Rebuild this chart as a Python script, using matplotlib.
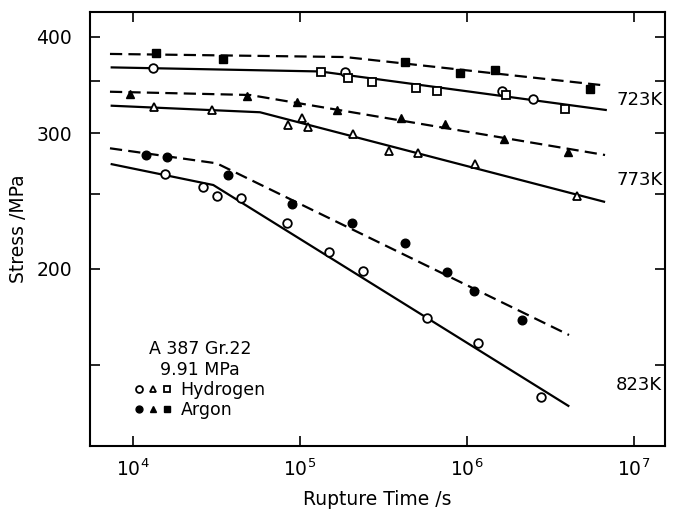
import matplotlib
matplotlib.use("Agg")
import matplotlib.pyplot as plt
from matplotlib.ticker import FixedLocator, FixedFormatter, NullFormatter, LogLocator
from matplotlib.legend_handler import HandlerTuple
import matplotlib.transforms as mtransforms

# ---- data (rupture time in s, stress in MPa) ----
# 723 K
h723_sq_t = [133600, 194700, 271000, 495000, 664000, 1.705e6, 3.846e6]
h723_sq_s = [360.3, 353.2, 349.0, 343.4, 340.0, 336.1, 322.0]
h723_ci_t = [13230, 186000, 1.614e6, 2.495e6]
h723_ci_s = [363.9, 359.6, 340.4, 331.8]
ar723_t = [13730, 34720, 425300, 908100, 1.472e6, 5.452e6]
ar723_s = [380.7, 373.9, 371.2, 358.5, 362.1, 341.8]
fit_h723_t = [7457, 131800, 6.77e6]
fit_h723_s = [365.0, 360.6, 321.4]
fit_ar723_t = [7280, 186000, 6.705e6]
fit_ar723_s = [380.0, 376.5, 345.8]

# 773 K
h773_t = [13360, 29850, 85110, 102400, 111200, 208600, 342500, 506700, 1.116e6, 4.576e6]
h773_s = [324.0, 321.4, 307.0, 314.1, 305.7, 298.8, 284.5, 282.3, 273.5, 248.7]
ar773_t = [9600, 48340, 95550, 167300, 402500, 738600, 1.665e6, 4.043e6]
ar773_s = [337.1, 335.1, 329.4, 321.4, 313.5, 308.2, 294.6, 283.6]
fit_h773_t = [7457, 57600, 6.613e6]
fit_h773_s = [325.5, 319.2, 244.3]
fit_ar773_t = [7280, 50180, 6.705e6]
fit_ar773_s = [339.4, 336.1, 280.9]

# 823 K
h823_t = [15550, 26360, 31710, 44330, 83260, 148600, 239300, 573600, 1.159e6, 2.774e6]
h823_s = [265.2, 255.5, 248.7, 246.8, 229.4, 210.0, 198.6, 172.4, 160.0, 136.3]
ar823_t = [11960, 15920, 36900, 89940, 204000, 425300, 762100, 1.101e6, 2.126e6]
ar823_s = [280.9, 279.0, 264.7, 242.4, 229.0, 216.1, 198.2, 187.0, 171.5]
fit_h823_t = [7457, 30260, 4.043e6]
fit_h823_s = [273.3, 256.8, 132.7]
fit_ar823_t = [7280, 31710, 4.082e6]
fit_ar823_s = [286.6, 274.0, 164.0]

temp_labels = ['723K', '773K', '823K']
temp_label_y = [331, 260.7, 141.2]

fig = plt.figure(figsize=(6.88, 5.09), dpi=100)
ax = fig.add_axes([0.1308, 0.1238, 0.8358, 0.8527])
ax.set_xscale('log')
ax.set_yscale('log')

lw = 1.6
dash = (0, (5.5, 2.8))

# fitted lines
ax.plot(fit_h723_t, fit_h723_s, 'k-', lw=lw)
ax.plot(fit_ar723_t, fit_ar723_s, color='k', ls=dash, lw=lw)
ax.plot(fit_h773_t, fit_h773_s, 'k-', lw=lw)
ax.plot(fit_ar773_t, fit_ar773_s, color='k', ls=dash, lw=lw)
ax.plot(fit_h823_t, fit_h823_s, 'k-', lw=lw)
ax.plot(fit_ar823_t, fit_ar823_s, color='k', ls=dash, lw=lw)

ms = 6.2
op = dict(ls='none', mfc='white', mec='k', mew=1.3, ms=ms, zorder=3)
fl = dict(ls='none', mfc='k', mec='k', ms=ms, zorder=3)

ho, = ax.plot(h823_t, h823_s, 'o', **op)
ax.plot(h723_ci_t, h723_ci_s, 'o', **op)
ht, = ax.plot(h773_t, h773_s, '^', **op)
hs, = ax.plot(h723_sq_t, h723_sq_s, 's', **op)
ao, = ax.plot(ar823_t, ar823_s, 'o', **fl)
at, = ax.plot(ar773_t, ar773_s, '^', **fl)
as_, = ax.plot(ar723_t, ar723_s, 's', **fl)

# axes formatting
ax.set_xlim(5527, 1.533e7)
ax.set_ylim(117.7, 430.8)
ax.xaxis.set_major_locator(LogLocator(base=10, numticks=10))
ax.xaxis.set_minor_locator(FixedLocator([]))
ax.yaxis.set_major_locator(FixedLocator([200, 300, 400]))
ax.yaxis.set_minor_locator(FixedLocator([150, 250, 350]))
ax.yaxis.set_major_formatter(FixedFormatter(['200', '300', '400']))
ax.yaxis.set_minor_formatter(NullFormatter())
ax.tick_params(which='both', direction='in', top=True, right=True, width=1.2, labelsize=13.5)
ax.tick_params(which='major', length=7)
ax.tick_params(which='minor', length=7)
ax.tick_params(axis='y', which='major', pad=13)
ax.tick_params(axis='x', which='major', pad=9)
for sp in ax.spines.values():
    sp.set_linewidth(1.5)

ax.set_xlabel('Rupture Time /s', fontsize=13.5, labelpad=7)
ax.set_ylabel('Stress /MPa', fontsize=13.5, labelpad=6)

trans = mtransforms.blended_transform_factory(ax.transAxes, ax.transData)
for lab, yv in zip(temp_labels, temp_label_y):
    ax.text(0.955, yv, lab, transform=trans, ha='center', va='center', fontsize=13)

leg = ax.legend([(ho, ht, hs), (ao, at, as_)], ['Hydrogen', 'Argon'],
                handler_map={tuple: HandlerTuple(ndivide=None, pad=0.2)},
                loc='lower left', bbox_to_anchor=(0.055, 0.035), frameon=False,
                title='A 387 Gr.22\n9.91 MPa', fontsize=12.5, title_fontsize=12.5,
                alignment='center',
                handlelength=2.2, handletextpad=0.5, labelspacing=0.1,
                borderpad=0.2, markerscale=0.8)
leg.get_title().set_multialignment('center')

fig.savefig('out.png', dpi=100)
